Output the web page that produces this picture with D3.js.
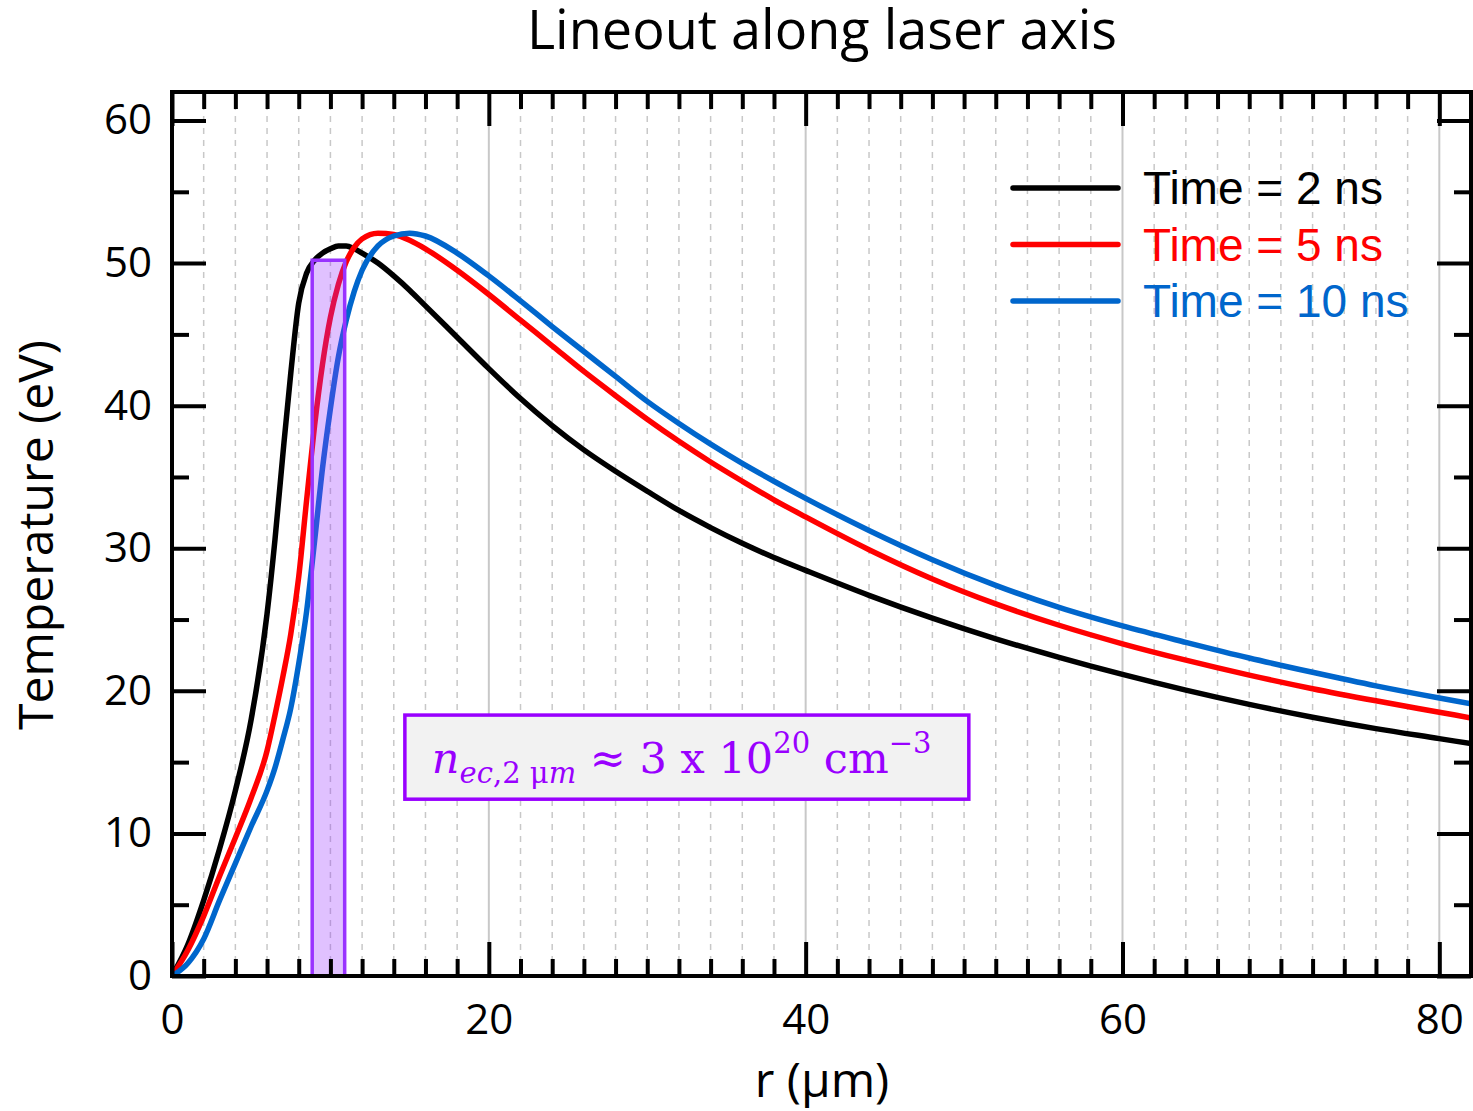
<!DOCTYPE html>
<html>
<head>
<meta charset="utf-8">
<script src="https://d3js.org/d3.v7.min.js"></script>
<style>
  body { margin: 0; background: #fff; }
  svg { display: block; }
</style>
</head>
<body>
<div id="graph"></div>
<script>

    // r positions (um) shared by the three lineouts
    var rValues = [0, 1, 2, 3, 4, 5, 6, 6.5, 7, 7.5, 8, 8.5, 9, 9.5, 10, 10.5, 11, 11.5, 12, 13, 14, 15, 16,
        18, 20, 22, 24, 26, 28, 30, 32, 34, 36, 38, 40, 44, 48, 52, 56, 60, 64, 68, 72, 76, 80, 82];

    // temperature (eV)
    var temp2ns = [0, 2.2, 5.3, 8.9, 13.0, 18.0, 25.4, 30.6, 36.6, 42.3, 47.2, 49.3, 50.2, 50.7, 51.0, 51.2, 51.2, 51.0, 50.7, 50.0, 49.1, 48.1, 47.0,
        44.8, 42.6, 40.5, 38.6, 36.9, 35.4, 34.0, 32.65, 31.45, 30.35, 29.35, 28.45, 26.7, 25.1, 23.65, 22.35,
        21.15, 20.05, 19.05, 18.15, 17.35, 16.65, 16.3];
    var temp5ns = [0, 1.8, 4.2, 7.0, 9.7, 12.5, 15.8, 18.3, 21.0, 24.0, 28.0, 33.4, 38.6, 42.9, 46.2, 48.5, 50.1, 51.1, 51.7, 52.1, 52.0, 51.6, 51.0,
        49.5, 47.8, 46.0, 44.2, 42.4, 40.7, 39.05, 37.5, 36.05, 34.7, 33.4, 32.2, 29.9, 27.85, 26.1, 24.6,
        23.3, 22.15, 21.1, 20.15, 19.3, 18.5, 18.1];
    var temp10ns = [0, 0.9, 2.6, 5.3, 7.9, 10.5, 13.0, 14.6, 16.6, 18.8, 21.9, 25.6, 30.5, 35.6, 39.8, 43.4, 46.0, 48.0, 49.5, 51.2, 51.9, 52.1, 51.9,
        50.7, 49.1, 47.35, 45.55, 43.8, 42.05, 40.3, 38.75, 37.3, 35.95, 34.7, 33.5, 31.25, 29.2, 27.4, 25.85,
        24.55, 23.4, 22.3, 21.3, 20.35, 19.5, 19.1];

    var seriesNames = ["Time = 2 ns", "Time = 5 ns", "Time = 10 ns"];
    var seriesColors = ["#000000", "#ff0000", "#0066cc"];

    var xMajorTicks = [0, 20, 40, 60, 80];
    var yMajorTicks = [0, 10, 20, 30, 40, 50, 60];

    // critical density band
    var bandR = [8.85, 10.9];
    var bandTop = 50.2;

    var margin = { top: 92, right: 2, bottom: 135, left: 172 },
        width = 1473 - margin.left - margin.right,
        height = 1111 - margin.top - margin.bottom;

    var svg = d3.select("#graph")
        .append("svg")
        .attr("width", 1473)
        .attr("height", 1111);

    var g = svg.append("g")
        .attr("transform", "translate(" + margin.left + "," + margin.top + ")");

    var x = d3.scaleLinear().domain([0, 82]).range([0, width]);
    var y = d3.scaleLinear().domain([0, 62]).range([height, 0]);

    var xMinor = d3.range(0, 83, 2).filter(function (d) { return d % 20 !== 0; });
    var yMinor = d3.range(0, 62, 5).filter(function (d) { return d % 10 !== 0; });

    // vertical grid
    g.append("g")
        .selectAll("line")
        .data(xMinor)
        .enter().append("line")
        .attr("x1", function (d) { return x(d); })
        .attr("x2", function (d) { return x(d); })
        .attr("y1", 0)
        .attr("y2", height)
        .style("stroke", "#c8c8c8")
        .style("stroke-width", 1.5)
        .style("stroke-dasharray", "6,6");

    g.append("g")
        .selectAll("line")
        .data(xMajorTicks.slice(1))
        .enter().append("line")
        .attr("x1", function (d) { return x(d); })
        .attr("x2", function (d) { return x(d); })
        .attr("y1", 0)
        .attr("y2", height)
        .style("stroke", "#c8c8c8")
        .style("stroke-width", 2);

    // curves
    g.append("clipPath").attr("id", "clip")
        .append("rect").attr("width", width).attr("height", height);

    var series = [temp2ns, temp5ns, temp10ns];
    var line = d3.line()
        .x(function (d, i) { return x(rValues[i]); })
        .y(function (d) { return y(d); })
        .curve(d3.curveMonotoneX);

    g.append("g")
        .attr("clip-path", "url(#clip)")
        .selectAll("path")
        .data(series)
        .enter().append("path")
        .attr("d", line)
        .style("fill", "none")
        .style("stroke", function (d, i) { return seriesColors[i]; })
        .style("stroke-width", 5.5);

    // band
    g.append("rect")
        .attr("x", x(bandR[0]))
        .attr("y", y(bandTop))
        .attr("width", x(bandR[1]) - x(bandR[0]))
        .attr("height", height - y(bandTop))
        .style("fill", "rgba(153,51,255,0.3)")
        .style("stroke", "#9933ff")
        .style("stroke-width", 3.5);

    // axes with inward ticks
    function styleAxis(sel) {
        sel.select(".domain").remove();
        sel.selectAll(".tick line").style("stroke", "#000").style("stroke-width", 4);
        sel.selectAll("text").style("font-family", "'Open Sans', sans-serif").style("font-size", "42px").style("fill", "#000");
    }

    g.append("g").attr("transform", "translate(0," + height + ")")
        .call(d3.axisBottom(x).tickValues(xMajorTicks).tickSize(-34).tickPadding(28).tickFormat(d3.format("d")))
        .call(styleAxis);
    g.append("g").attr("transform", "translate(0," + height + ")")
        .call(d3.axisBottom(x).tickValues(xMinor).tickSize(-17).tickFormat(""))
        .call(styleAxis);
    g.append("g")
        .call(d3.axisTop(x).tickValues(xMajorTicks).tickSize(-34).tickFormat(""))
        .call(styleAxis);
    g.append("g")
        .call(d3.axisTop(x).tickValues(xMinor).tickSize(-17).tickFormat(""))
        .call(styleAxis);

    g.append("g")
        .call(d3.axisLeft(y).tickValues(yMajorTicks).tickSize(-34).tickPadding(20).tickFormat(d3.format("d")))
        .call(styleAxis);
    g.append("g")
        .call(d3.axisLeft(y).tickValues(yMinor).tickSize(-17).tickFormat(""))
        .call(styleAxis);
    g.append("g").attr("transform", "translate(" + width + ",0)")
        .call(d3.axisRight(y).tickValues(yMajorTicks).tickSize(-34).tickFormat(""))
        .call(styleAxis);
    g.append("g").attr("transform", "translate(" + width + ",0)")
        .call(d3.axisRight(y).tickValues(yMinor).tickSize(-17).tickFormat(""))
        .call(styleAxis);

    // frame
    g.append("rect")
        .attr("width", width)
        .attr("height", height)
        .style("fill", "none")
        .style("stroke", "#000")
        .style("stroke-width", 4);

    // titles
    svg.append("text")
        .attr("x", 822)
        .attr("y", 49)
        .attr("text-anchor", "middle")
        .style("font-family", "'Open Sans', sans-serif")
        .style("font-size", "54px")
        .text("Lineout along laser axis");

    svg.append("text")
        .attr("x", 822)
        .attr("y", 1097)
        .attr("text-anchor", "middle")
        .style("font-family", "'Open Sans', sans-serif")
        .style("font-size", "48px")
        .text("r (μm)");

    svg.append("text")
        .attr("transform", "translate(53,535) rotate(-90)")
        .attr("text-anchor", "middle")
        .style("font-family", "'Open Sans', sans-serif")
        .style("font-size", "48px")
        .text("Temperature (eV)");

    // legend
    var legend = svg.append("g")
        .selectAll("g")
        .data(seriesNames)
        .enter().append("g")
        .attr("transform", function (d, i) { return "translate(1013," + (188 + i * 56.5) + ")"; });

    legend.append("line")
        .attr("x1", 0).attr("x2", 105)
        .style("stroke", function (d, i) { return seriesColors[i]; })
        .style("stroke-width", 5.5)
        .style("stroke-linecap", "round");

    legend.append("text")
        .attr("x", 130)
        .attr("y", 16)
        .style("font-family", "'Liberation Sans', Arial, sans-serif")
        .style("font-size", "46px")
        .style("fill", function (d, i) { return seriesColors[i]; })
        .text(function (d) { return d; });

    // density annotation
    var box = g.append("g");
    box.append("rect")
        .attr("x", x(14.7))
        .attr("y", y(18.3))
        .attr("width", x(50.3) - x(14.7))
        .attr("height", y(12.4) - y(18.3))
        .style("fill", "#f2f2f2")
        .style("stroke", "#9900ff")
        .style("stroke-width", 3.5);

    var note = box.append("text")
        .attr("x", x(14.7) + 27)
        .attr("y", y(18.3) + 58)
        .style("font-family", "'DejaVu Serif', serif")
        .style("font-size", "43px")
        .style("fill", "#9900ff");
    note.append("tspan").style("font-style", "italic").text("n");
    note.append("tspan").attr("dy", 10).style("font-size", "29px").style("font-style", "italic").text("ec");
    note.append("tspan").style("font-size", "29px").text(",2 μ");
    note.append("tspan").style("font-size", "29px").style("font-style", "italic").text("m");
    note.append("tspan").attr("dy", -10).text(" ≈ 3 x 10");
    note.append("tspan").attr("dy", -20).style("font-size", "29px").text("20");
    note.append("tspan").attr("dy", 20).text(" cm");
    note.append("tspan").attr("dy", -20).style("font-size", "29px").text("−3");

</script>
</body>
</html>
